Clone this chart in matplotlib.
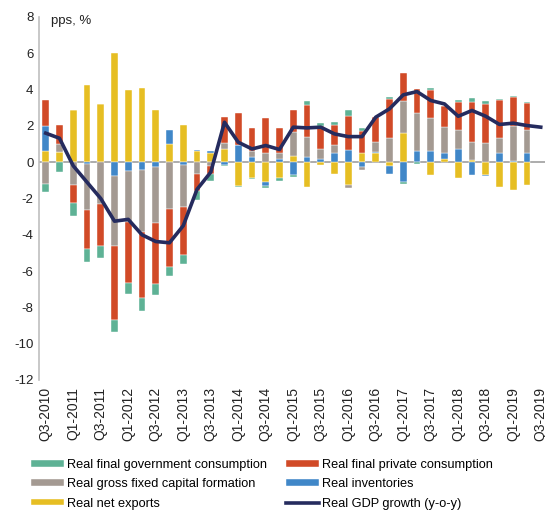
import numpy as np
import matplotlib.pyplot as plt

plt.rcParams['font.family'] = ['Liberation Sans', 'DejaVu Sans']

# quarters Q3-2010 .. Q3-2019 (bars stop at Q2-2019, GDP line goes one further)
quarters = []
for y in range(2010, 2020):
    for q in range(1, 5):
        quarters.append('Q%d-%d' % (q, y))
quarters = quarters[2:39]

# contributions, pps
net_exports = [0.64, 0.55, 2.85, 4.28, 3.2, 6.0, 4.0, 4.08, 2.9, 1.0, 2.07, 0.59,
               0.51, 0.73, -1.32, -0.88, -1.07, -0.86, 0.33, -1.38, -0.15, -0.64, -1.25, 0.51,
               0.51, -0.22, 1.62, 0.0, -0.70, 0.18, -0.88, 0.13, -0.70, -1.38, -1.51, -1.25]
inventories = [1.38, 0.0, 0.0, -0.09, 0.0, -0.77, -0.5, -0.42, -0.29, 0.79, -0.13, 0.07,
               0.09, -0.15, 0.93, 0.31, -0.26, 0.18, -0.73, 0.31, 0.18, 0.51, 0.68, -0.28,
               0.07, -0.42, -1.1, 0.64, 0.64, 0.33, 0.70, -0.70, -0.07, 0.51, 0.09, 0.51]
gfcf = [-1.19, 0.45, -1.25, -2.52, -2.30, -3.82, -2.81, -3.43, -3.05, -2.57, -2.35, -0.64,
        -0.22, 0.33, 0.0, 0.28, 0.51, 0.33, 1.36, 1.1, 0.55, 0.44, -0.15, -0.15,
        0.55, 1.34, 1.73, 2.08, 1.78, 1.41, 1.08, 1.01, 1.07, 0.83, 1.93, 1.29]
private_cons = [1.38, 1.05, -0.99, -2.17, -2.30, -4.13, -3.34, -3.64, -3.38, -3.21, -2.66, -0.95,
                -0.42, 1.41, 1.77, 1.29, 1.91, 1.36, 1.21, 1.76, 1.29, 1.1, 1.89, 1.23,
                1.34, 2.15, 1.56, 1.29, 1.56, 1.19, 1.52, 2.2, 2.15, 2.06, 1.56, 1.45]
gov_cons = [-0.46, -0.55, -0.70, -0.70, -0.70, -0.64, -0.61, -0.72, -0.59, -0.5, -0.46, -0.5,
            -0.37, -0.07, -0.05, -0.07, -0.07, -0.18, -0.11, 0.2, 0.15, 0.18, 0.28, 0.13,
            0.0, 0.09, -0.09, -0.09, 0.09, 0.0, 0.15, 0.2, 0.13, 0.07, 0.07, 0.07]
gdp_growth = [1.6, 1.32, -0.2, -1.1, -2.0, -3.25, -3.15, -4.0, -4.37, -4.44, -3.5, -1.5,
              -0.55, 2.2, 1.1, 0.73, 0.92, 0.70, 1.93, 1.89, 1.93, 1.56, 1.41, 1.41,
              2.48, 2.94, 3.71, 3.89, 3.4, 3.21, 2.53, 2.85, 2.53, 2.08, 2.15, 2.02, 1.93]

yticks = [8, 6, 4, 2, 0, -2, -4, -6, -8, -10, -12]

series = [
    (net_exports, '#E6BE23', 'Real net exports'),
    (inventories, '#4087C8', 'Real inventories'),
    (gfcf, '#A49A92', 'Real gross fixed capital formation'),
    (private_cons, '#D14A27', 'Real final private consumption'),
    (gov_cons, '#5EB295', 'Real final government consumption'),
]

fig = plt.figure(figsize=(5.45, 5.12), dpi=100)
ax = fig.add_axes([39 / 545, 132 / 512, 506 / 545, 363 / 512])

x = np.arange(len(net_exports))
pos_bottom = np.zeros(len(x))
neg_bottom = np.zeros(len(x))
handles = {}
for vals, col, lab in series:
    v = np.array(vals)
    b = np.where(v >= 0, pos_bottom, neg_bottom)
    h = ax.bar(x, v, 0.5, bottom=b, color=col, edgecolor='white', linewidth=0.3, label=lab, zorder=2)
    handles[lab] = h
    pos_bottom += np.where(v >= 0, v, 0)
    neg_bottom += np.where(v < 0, v, 0)

ax.axhline(0, color='#A6A6A6', linewidth=1.3, zorder=1)
line, = ax.plot(np.arange(len(gdp_growth)), gdp_growth, color='#252B5E', linewidth=2.6,
                solid_joinstyle='round', label='Real GDP growth (y-o-y)', zorder=3)

ax.set_xlim(-0.49, 36.31)
ax.set_ylim(-12, 8)
ax.set_yticks(yticks)
ax.set_yticklabels([str(t) for t in yticks], fontsize=9.5, color='#222222')
ax.set_xticks(np.arange(0, len(quarters), 2))
ax.set_xticklabels(quarters[::2], rotation=90, fontsize=10, color='#222222')
ax.tick_params(length=0, pad=4)
ax.tick_params(axis='x', pad=5)
for s in ['top', 'right', 'bottom']:
    ax.spines[s].set_visible(False)
ax.spines['left'].set_color('#BFBFBF')
ax.spines['left'].set_linewidth(1.2)

ax.text(0.024, 1.005, 'pps, %', transform=ax.transAxes, fontsize=9.5, va='top', ha='left',
        color='#222222')

order = ['Real final government consumption', 'Real gross fixed capital formation',
         'Real net exports', 'Real final private consumption', 'Real inventories']
hs = [handles[o] for o in order] + [line]
labs = order + ['Real GDP growth (y-o-y)']
fig.legend(hs, labs, ncol=2, loc='upper left', bbox_to_anchor=(0.047, 0.114), frameon=False,
           fontsize=9.2, handlelength=2.6, handleheight=0.45, handletextpad=0.25,
           columnspacing=1.45, labelspacing=0.58, borderaxespad=0)

fig.savefig('out.png', dpi=100)
